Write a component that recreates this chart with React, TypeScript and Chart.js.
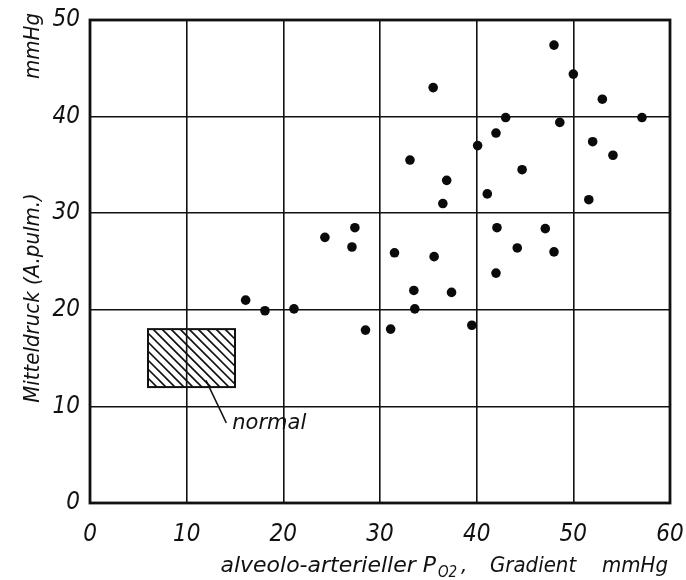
import React, { useEffect, useRef } from 'react';
import { Chart, registerables } from 'chart.js';

Chart.register(...registerables);

// alveolo-arterieller PO2 Gradient (mmHg)
const gradient = [
  16.1, 18.1, 21.1, 24.3, 27.1, 27.4, 28.5, 31.1, 31.5, 33.1, 33.5, 33.6,
  35.5, 35.6, 36.5, 36.9, 37.4, 39.5, 40.1, 41.1, 42.0, 42.1, 42.0, 43.0,
  44.2, 44.7, 47.1, 48.0, 48.0, 48.6, 50.0, 51.6, 52.0, 53.0, 54.1, 57.1,
];
// Mitteldruck A.pulm. (mmHg)
const pressure = [
  21.0, 19.9, 20.1, 27.5, 26.5, 28.5, 17.9, 18.0, 25.9, 35.5, 22.0, 20.1,
  43.0, 25.5, 31.0, 33.4, 21.8, 18.4, 37.0, 32.0, 38.3, 28.5, 23.8, 39.9,
  26.4, 34.5, 28.4, 47.4, 26.0, 39.4, 44.4, 31.4, 37.4, 41.8, 36.0, 39.9,
];
const xTicks = [0, 10, 20, 30, 40, 50, 60];
const yTicks = [0, 10, 20, 30, 40, 50];
const normalX = [6, 15];
const normalY = [12, 18];
const normalLabel = 'normal';
const leaderFrom = [12.0, 12.7];
const leaderTo = [14.1, 8.3];

const FONT = '"DejaVu Sans Condensed", "Liberation Sans Narrow", "DejaVu Sans", sans-serif';
const WIDE = '"DejaVu Sans", sans-serif';

const overlayPlugin = {
  id: 'overlay',
  beforeDatasetsDraw(chart: any) {
    const { ctx, scales } = chart;
    const xs = scales.x, ys = scales.y;
    const l = xs.getPixelForValue(normalX[0]);
    const r = xs.getPixelForValue(normalX[1]);
    const t = ys.getPixelForValue(normalY[1]);
    const b = ys.getPixelForValue(normalY[0]);
    ctx.save();
    ctx.fillStyle = '#fff';
    ctx.fillRect(l, t, r - l, b - t);
    ctx.beginPath();
    ctx.rect(l, t, r - l, b - t);
    ctx.clip();
    ctx.strokeStyle = '#111';
    ctx.lineWidth = 1.7;
    const h = b - t;
    for (let s = l - h; s < r + h; s += 9) {
      ctx.beginPath();
      ctx.moveTo(s, t);
      ctx.lineTo(s + h, b);
      ctx.stroke();
    }
    ctx.restore();
    ctx.save();
    ctx.strokeStyle = '#111';
    ctx.lineWidth = 2;
    ctx.strokeRect(l, t, r - l, b - t);
    const gx = xs.getPixelForValue(10);
    ctx.lineWidth = 1.6;
    ctx.beginPath();
    ctx.moveTo(gx, t);
    ctx.lineTo(gx, b);
    ctx.stroke();
    const x1 = xs.getPixelForValue(leaderFrom[0]);
    const y1 = ys.getPixelForValue(leaderFrom[1]);
    const x2 = xs.getPixelForValue(leaderTo[0]);
    const y2 = ys.getPixelForValue(leaderTo[1]);
    ctx.lineWidth = 1.5;
    ctx.beginPath();
    ctx.moveTo(x1, y1);
    ctx.lineTo(x2, y2);
    ctx.stroke();
    ctx.fillStyle = '#111';
    ctx.font = `italic 21px ${WIDE}`;
    ctx.textBaseline = 'middle';
    ctx.textAlign = 'left';
    ctx.fillText(normalLabel, x2 + 6, y2 + 1);
    ctx.restore();
  },
  afterDraw(chart: any) {
    const { ctx, chartArea } = chart;
    ctx.save();
    ctx.strokeStyle = '#111';
    ctx.lineWidth = 2.8;
    ctx.strokeRect(chartArea.left, chartArea.top, chartArea.right - chartArea.left, chartArea.bottom - chartArea.top);
    ctx.fillStyle = '#111';
    ctx.font = `italic 22px ${FONT}`;
    ctx.textBaseline = 'middle';
    ctx.textAlign = 'center';
    ctx.save();
    ctx.translate(33, 298);
    ctx.rotate(-Math.PI / 2);
    ctx.fillText('Mitteldruck (A.pulm.)', 0, 0);
    ctx.restore();
    ctx.save();
    ctx.translate(33, 46);
    ctx.rotate(-Math.PI / 2);
    ctx.fillText('mmHg', 0, 0);
    ctx.restore();
    // x title with subscript
    ctx.textBaseline = 'alphabetic';
    const base = 572;
    ctx.font = `italic 22px ${WIDE}`;
    ctx.textAlign = 'right';
    ctx.fillText('alveolo-arterieller P', 436, base);
    ctx.textAlign = 'left';
    ctx.font = `italic 15px ${FONT}`;
    ctx.fillText('O2', 438, base + 5);
    ctx.font = `italic 22px ${FONT}`;
    ctx.fillText(',', 461, base);
    ctx.fillText('Gradient', 490, base);
    ctx.textAlign = 'right';
    ctx.fillText('mmHg', 668, base);
    ctx.restore();
  },
};

export default function App() {
  const ref = useRef<HTMLCanvasElement | null>(null);
  useEffect(() => {
    if (!ref.current) return;
    const points = gradient.map((g, i) => ({ x: g, y: pressure[i] }));
    const chart = new Chart(ref.current, {
      type: 'scatter',
      data: {
        datasets: [
          {
            data: points,
            backgroundColor: '#0a0a0a',
            borderColor: '#0a0a0a',
            pointRadius: 4.8,
            pointHoverRadius: 4.8,
            borderWidth: 0,
          },
        ],
      },
      options: {
        animation: false,
        responsive: true,
        maintainAspectRatio: false,
        layout: { padding: { top: 20, right: 16, left: 0, bottom: 0 } },
        plugins: { legend: { display: false }, tooltip: { enabled: false } },
        scales: {
          x: {
            type: 'linear',
            min: 0,
            max: 60,
            afterBuildTicks: (s: any) => { s.ticks = xTicks.map((v) => ({ value: v })); },
            afterFit: (s: any) => { s.height = 77; s.paddingLeft = 0; s.paddingRight = 0; },
            grid: { color: '#111', lineWidth: 1.6, drawTicks: false },
            border: { display: false },
            ticks: {
              padding: 17,
              color: '#111',
              font: { family: FONT, size: 24, style: 'italic' },
            },
          },
          y: {
            type: 'linear',
            min: 0,
            max: 50,
            afterBuildTicks: (s: any) => { s.ticks = yTicks.map((v) => ({ value: v })); },
            afterFit: (s: any) => { s.width = 90; s.paddingTop = 0; s.paddingBottom = 0; },
            grid: { color: '#111', lineWidth: 1.6, drawTicks: false },
            border: { display: false },
            ticks: {
              padding: 10,
              color: '#111',
              font: { family: FONT, size: 24, style: 'italic' },
            },
          },
        },
      },
      plugins: [overlayPlugin],
    });
    return () => chart.destroy();
  }, []);
  return (
    <div style={{ position: 'fixed', left: 0, top: 0, width: 686, height: 580, background: '#fff' }}>
      <canvas ref={ref} />
    </div>
  );
}
